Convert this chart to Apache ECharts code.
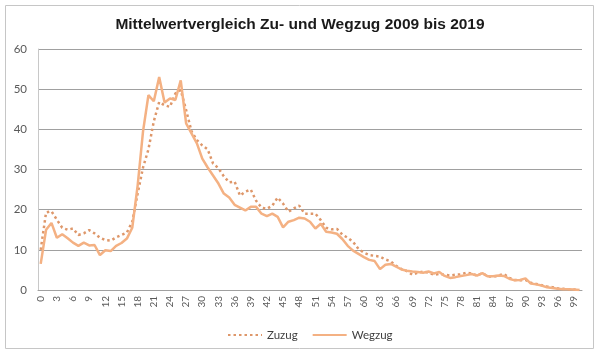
<!DOCTYPE html>
<html>
<head>
<meta charset="utf-8">
<script src="https://cdn.jsdelivr.net/npm/echarts@6/dist/echarts.min.js"></script>
<style>
html,body{margin:0;padding:0;background:#fff;}
#c{width:600px;height:358px;}
</style>
</head>
<body>
<div id="c"></div>
<script>
const titleText = "Mittelwertvergleich Zu- und Wegzug 2009 bis 2019";
const categories = [];
for (let i = 0; i <= 100; i++) categories.push(String(i));
const yTicks = [0, 10, 20, 30, 40, 50, 60];
const seriesNames = ["Zuzug", "Wegzug"];

const zuzug = [10,19.3,19.6,17.5,15.5,15,15.3,13.7,14.1,14.9,
14.1,13,12.4,12.3,13.1,13.7,14.3,17,24,30.5,
35,42,46.8,46,45.6,48.9,49.8,44.8,39.5,37.3,
36,35,31.5,30.3,28.3,26.8,27,23.5,24.5,25,
22.2,20.5,20.2,21,23,21.5,19.5,20.3,21,19,
19,19,17.4,15.5,15.1,15.2,13.8,13,12,10.2,
9.3,8.7,8.5,8.3,7.6,7.1,6,5.2,4.7,3.8,
4.3,4.6,4.3,3.8,4,3.8,3.6,3.8,3.9,4.3,
4.1,3.6,4.2,3.4,3.3,3.6,4,3,2.5,2.4,
2.5,1.8,1.5,1.2,0.9,0.7,0.4,0.3,0.2,0.1,
0];

const wegzug = [6.5,15,16.7,13,13.9,12.9,11.8,11,11.8,11.1,
11.2,8.7,9.9,9.7,11,11.7,12.8,15.5,26,39.5,
48.5,47,53,46.7,47.7,47.3,52.2,41.5,39,36.5,
32.7,30.5,28.5,26.5,24,23,21.2,20.5,19.8,20.7,
20.7,19,18.4,19,18.2,15.6,17,17.4,18,17.8,
17,15.3,16.5,14.5,14.3,14,12.7,11,9.8,9,
8.2,7.5,7.2,5.2,6.3,6.5,5.8,5.1,4.8,4.6,
4.5,4.3,4.6,4.1,4.5,3.5,3,3.2,3.5,3.7,
4,3.6,4.2,3.4,3.4,3.6,3.5,2.8,2.4,2.5,
2.9,1.6,1.4,1.1,0.7,0.5,0.3,0.2,0.2,0.1,
0];

const chart = echarts.init(document.getElementById('c'), null, {renderer: 'canvas'});
const lineColor = '#F4B183';
const dotColor = '#DE976A';
chart.setOption({
  animation: false,
  backgroundColor: '#fff',
  graphic: [{
    type: 'rect',
    shape: {x: 5.5, y: 5.5, width: 588, height: 343},
    style: {fill: 'none', stroke: '#c6c6c6', lineWidth: 1},
    silent: true
  }],
  title: {
    text: titleText,
    left: 'center',
    top: 12,
    textStyle: {fontFamily: 'Liberation Sans', fontWeight: 'bold', fontSize: 15.5, color: '#1a1a1a'}
  },
  legend: {
    data: seriesNames,
    left: 222,
    top: 324,
    itemWidth: 34,
    itemHeight: 10,
    itemGap: 14,
    itemStyle: {opacity: 0},
    textStyle: {fontFamily: 'Lato', fontSize: 11.5, color: '#404040'}
  },
  grid: {left: 38, right: 18, top: 49, bottom: 68, containLabel: false},
  xAxis: {
    type: 'category',
    data: categories,
    boundaryGap: true,
    axisLine: {lineStyle: {color: '#a0a0a0', width: 1}},
    axisTick: {show: false},
    axisLabel: {interval: 2, rotate: 90, fontSize: 10, fontFamily: 'Lato', color: '#595959', margin: 6}
  },
  yAxis: {
    type: 'value',
    min: yTicks[0],
    max: yTicks[yTicks.length - 1],
    interval: 10,
    axisLine: {show: true, lineStyle: {color: '#c8c8c8', width: 1}},
    axisTick: {show: false},
    axisLabel: {fontSize: 11.5, fontFamily: 'Lato', color: '#595959', margin: 11},
    splitLine: {lineStyle: {color: '#a0a0a0', width: 1}}
  },
  series: [
    {
      name: seriesNames[0],
      type: 'line',
      data: zuzug,
      symbol: 'none',
      color: dotColor,
      lineStyle: {color: dotColor, width: 2.5, type: [2.5, 3]}
    },
    {
      name: seriesNames[1],
      type: 'line',
      data: wegzug,
      symbol: 'none',
      color: lineColor,
      lineStyle: {color: lineColor, width: 2.5, type: 'solid'}
    }
  ]
});
</script>
</body>
</html>
